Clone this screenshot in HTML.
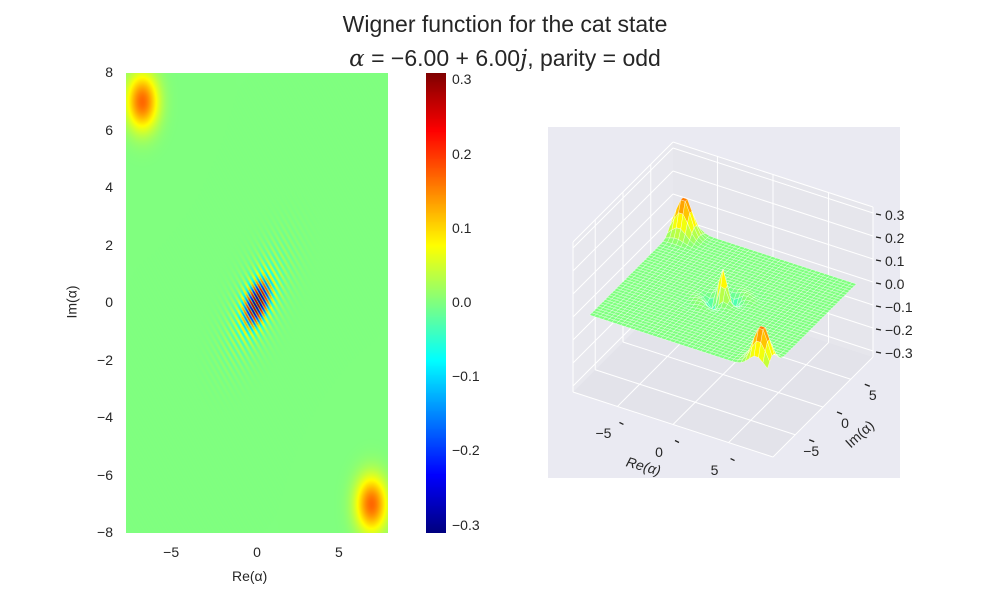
<!DOCTYPE html>
<html><head><meta charset="utf-8">
<style>
body{margin:0;background:#fff;font-family:"Liberation Sans",sans-serif;}
#wrap{position:relative;width:1000px;height:600px;overflow:hidden;background:#fff;}
.t{position:absolute;color:#262626;font-size:14px;white-space:nowrap;z-index:5;}
</style></head>
<body>
<div id="wrap">
<div class="t" style="left:0;width:1010px;text-align:center;top:7px;font-size:23px;line-height:34px;">Wigner function for the cat state<br><span style="font-family:'DejaVu Serif',serif;font-style:italic;">α</span> = −6.00 + 6.00<span style="font-style:italic;font-family:'DejaVu Serif',serif;">j</span>, parity = odd</div>
<canvas id="heat" width="262" height="460" style="position:absolute;left:126px;top:73px;"></canvas>
<canvas id="cbar" width="20" height="460" style="position:absolute;left:426px;top:73px;"></canvas>
<svg id="s3d" width="1000" height="600" style="position:absolute;left:0;top:0;"></svg>
<div id="labels"></div>
<div class="t" style="left:232px;top:568px;">Re(α)</div>
<div class="t" style="left:55px;top:294px;transform:rotate(-90deg);">Im(α)</div>
</div>
<script>
const catRe=[-6], catIm=[6];
const blobX=[-7,7], blobY=[7,-7], blobPeak=[0.17,0.17];
const fringeAmp=[0.31,0.07];
const heatXTicks=[-5,0,5], heatYTicks=[-8,-6,-4,-2,0,2,4,6,8];
const cbTicks=[-0.3,-0.2,-0.1,0.0,0.1,0.2,0.3];
const axTicks3d=[-5,0,5], zTicks3d=[-0.3,-0.2,-0.1,0.0,0.1,0.2,0.3];
const vmin=-0.31,vmax=0.31;

function W(x,y,fs){
  if(fs===undefined)fs=1;
  let w=0;
  for(let i=0;i<blobX.length;i++){const dx=x-blobX[i],dy=y-blobY[i];w+=blobPeak[i]*Math.exp(-1.1*(dx*dx+dy*dy));}
  const u=(x+y)/Math.SQRT2,v=(x-y)/Math.SQRT2;
  const k=4*Math.hypot(catRe[0],catIm[0])/Math.SQRT2;
  const ph=Math.cos(k*u*1.05);
  w+=fs*fringeAmp[0]*Math.exp(-u*u/0.8-v*v*3)*ph;
  w+=fs*fringeAmp[1]*Math.exp(-u*u/5-v*v/1.2)*ph;
  return w;
}
function jet(t){t=Math.max(0,Math.min(1,t));const c=a=>Math.round(255*Math.max(0,Math.min(1,1.5-Math.abs(4*t-a))));return [c(3),c(2),c(1)];}
const hx=v=>126+(v+8)/16*262, hy=v=>73+(8-v)/16*460;
(function(){const cv=document.getElementById('heat'),ctx=cv.getContext('2d'),im=ctx.createImageData(262,460);
for(let j=0;j<460;j++)for(let i=0;i<262;i++){const x=-8+(i+0.5)/262*16,y=8-(j+0.5)/460*16;const c=jet((W(x,y)-vmin)/(vmax-vmin));const p=(j*262+i)*4;im.data[p]=c[0];im.data[p+1]=c[1];im.data[p+2]=c[2];im.data[p+3]=255;}
ctx.putImageData(im,0,0);
const cb=document.getElementById('cbar').getContext('2d');for(let j=0;j<460;j++){const c=jet(1-j/459);cb.fillStyle=`rgb(${c})`;cb.fillRect(0,j,20,1);}})();
const L=document.getElementById('labels');
function lab(txt,x,y,name,al){const d=document.createElement('div');d.className='t';d.textContent=txt;


d.style.left=x+'px';d.style.top=(y-9)+'px';if(al==='r')d.style.transform='translateX(-100%)';else if(al==='c')d.style.transform='translateX(-50%)';L.appendChild(d);}
const fm=v=>(v<0?'−':'')+Math.abs(v);
heatXTicks.forEach(v=>lab(fm(v),hx(v)-(v<0?4:0),553,'x-tick-label','c'));
heatYTicks.forEach(v=>lab(fm(v),113,hy(v),'y-tick-label','r'));
const cy=v=>73+(vmax-v)/(vmax-vmin)*460;
cbTicks.forEach(v=>{lab((v<0?'−':'')+Math.abs(v).toFixed(1),452,cy(v),'colorbar-tick-label','l');});
const NS='http://www.w3.org/2000/svg',S=document.getElementById('s3d');
function el(t,a,name){const e=document.createElementNS(NS,t);for(const k in a)e.setAttribute(k,a[k]);


S.appendChild(e);return e;}
const R=9,ZR=0.326;
function P(x,y,z){const a=(x+R)/(2*R),b=(y+R)/(2*R),c=(z+ZR)/(2*ZR);return [573+a*200+b*100,392+a*65-b*100-c*150];}
const pts=a=>a.map(p=>p.join(',')).join(' ');
el('rect',{x:548,y:127,width:352,height:351,fill:'#eaeaf2'},'plot-3d-background');
el('polygon',{points:pts([P(-R,-R,-ZR),P(R,-R,-ZR),P(R,R,-ZR),P(-R,R,-ZR)]),fill:'#e3e3ea'},'floor-pane');
el('polygon',{points:pts([P(-R,-R,-ZR),P(-R,R,-ZR),P(-R,R,ZR),P(-R,-R,ZR)]),fill:'#e8e8ee'},'left-pane');
el('polygon',{points:pts([P(-R,R,-ZR),P(R,R,-ZR),P(R,R,ZR),P(-R,R,ZR)]),fill:'#e6e6ec'},'back-pane');
function ln(a,b,name,c,w){el('line',{x1:a[0],y1:a[1],x2:b[0],y2:b[1],stroke:c||'#fff','stroke-width':w||1},name);}
axTicks3d.forEach(v=>{ln(P(v,-R,-ZR),P(v,R,-ZR),'floor-grid-re');ln(P(v,R,-ZR),P(v,R,ZR),'back-grid-re');
ln(P(-R,v,-ZR),P(R,v,-ZR),'floor-grid-im');ln(P(-R,v,-ZR),P(-R,v,ZR),'left-grid-im');});
zTicks3d.forEach(v=>{ln(P(-R,-R,v),P(-R,R,v),'left-grid-z');ln(P(-R,R,v),P(R,R,v),'back-grid-z');});
[[P(-R,-R,-ZR),P(R,-R,-ZR)],[P(R,-R,-ZR),P(R,R,-ZR)],[P(-R,-R,-ZR),P(-R,-R,ZR)],[P(-R,-R,ZR),P(-R,R,ZR)],[P(-R,R,ZR),P(R,R,ZR)],[P(R,R,-ZR),P(R,R,ZR)]].forEach(e=>ln(e[0],e[1],'pane-edge'));
const N=40,st=16/N,quads=[];
for(let i=0;i<N;i++)for(let j=0;j<N;j++){const x0=-8+i*st,y0=-8+j*st;
const c=[[x0,y0],[x0+st,y0],[x0+st,y0+st],[x0,y0+st]].map(q=>[q[0],q[1],W(q[0],q[1],0.35)]);
const avg=c.reduce((s,q)=>s+q[2],0)/4;quads.push({c,avg,d:(x0+st/2)-(y0+st/2)});}
quads.sort((a,b)=>a.d-b.d);
quads.forEach(q=>{const col=jet((q.avg-vmin)/(vmax-vmin));el('polygon',{points:pts(q.c.map(p=>P(p[0],p[1],p[2]))),fill:`rgb(${col})`,stroke:'#fff','stroke-width':0.35},'surface-cell');});
axTicks3d.forEach(v=>{const p=P(v,-R,-ZR);ln([p[0]+2,p[1]+16],[p[0]+6,p[1]+18],'re-tick','#222',1.3);lab(fm(v),p[0]-14,p[1]+28,'re-tick-label','c');
const q=P(R,v,-ZR);ln([q[0]+14,q[1]+5],[q[0]+19,q[1]+7],'im-tick','#222',1.3);lab(fm(v),q[0]+22-(v<0?6:0),q[1]+17,'im-tick-label','c');});
zTicks3d.forEach(v=>{const x=P(R,R,v);ln([x[0]+3,x[1]+1],[x[0]+8,x[1]+2],'z-tick','#222',1.3);lab((v<0?'−':'')+Math.abs(v).toFixed(1),x[0]+12,x[1]+3,'z-tick-label','l');});
</script>
<div class="t" style="left:626px;top:458px;transform:rotate(16deg);font-style:italic;">Re(α)</div>
<div class="t" style="left:843px;top:426px;transform:rotate(-42deg);">Im(α)</div>
</body></html>
